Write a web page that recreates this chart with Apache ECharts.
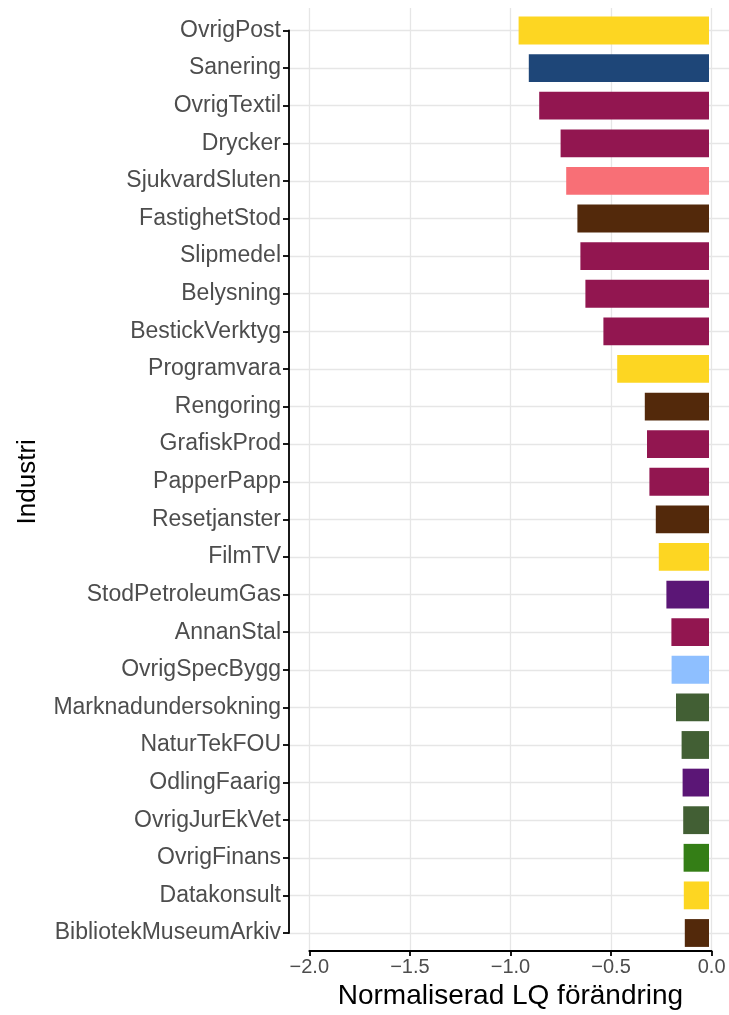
<!DOCTYPE html>
<html>
<head>
<meta charset="utf-8">
<script src="https://cdn.jsdelivr.net/npm/echarts@6/dist/echarts.min.js"></script>
<style>
html,body{margin:0;padding:0;background:#fff;}
#chart{width:729px;height:1015px;}
</style>
</head>
<body>
<div id="chart"></div>
<script>
// ---- data ----
const categories = [
  'OvrigPost','Sanering','OvrigTextil','Drycker','SjukvardSluten','FastighetStod',
  'Slipmedel','Belysning','BestickVerktyg','Programvara','Rengoring','GrafiskProd',
  'PapperPapp','Resetjanster','FilmTV','StodPetroleumGas','AnnanStal','OvrigSpecBygg',
  'Marknadundersokning','NaturTekFOU','OdlingFaarig','OvrigJurEkVet','OvrigFinans',
  'Datakonsult','BibliotekMuseumArkiv'
];
const lqChange = [
  -0.952, -0.901, -0.849, -0.742, -0.714, -0.658,
  -0.643, -0.618, -0.528, -0.459, -0.321, -0.310,
  -0.298, -0.266, -0.251, -0.213, -0.188, -0.187,
  -0.165, -0.137, -0.132, -0.129, -0.127,
  -0.126, -0.121
];
const xTicks = [-2.0, -1.5, -1.0, -0.5, 0.0];

// ---- styles (bar colour per category) ----
const palette = {
  yellow: '#FDD622', navy: '#1E4678', magenta: '#921650', salmon: '#F86F76',
  brown: '#53290B', purple: '#5B1676', lightblue: '#8EBFFF', darkgreen: '#425F34', green: '#347E16'
};
const barColorKeys = [
  'yellow','navy','magenta','magenta','salmon','brown',
  'magenta','magenta','magenta','yellow','brown','magenta',
  'magenta','brown','yellow','purple','magenta','lightblue',
  'darkgreen','darkgreen','purple','darkgreen','green',
  'yellow','brown'
];

const FONT = 'Liberation Sans, Arial, sans-serif';
const chart = echarts.init(document.getElementById('chart'), null, {renderer: 'canvas'});

const option = {
  backgroundColor: '#ffffff',
  animation: false,
  textStyle: {fontFamily: FONT},
  grid: [
    // grid 0: bars + capped y axis (first to last category)
    {left: 289, width: 442.6, top: 30.5, bottom: 82, containLabel: false},
    // grid 1: capped x axis from -2.0 to 0.0, full panel height for vertical grid lines
    {left: 309.3, width: 402.3, top: 8, bottom: 60, containLabel: false}
  ],
  xAxis: [
    {
      gridIndex: 0, type: 'value', min: -2.1, max: 0.1, show: false
    },
    {
      gridIndex: 1, type: 'value', min: xTicks[0], max: xTicks[xTicks.length - 1], interval: 0.5,
      axisLine: {show: true, onZero: false, lineStyle: {color: '#000', width: 1.8}},
      axisTick: {show: true, length: 5, lineStyle: {color: '#000', width: 1.8}},
      axisLabel: {
        color: '#4D4D4D', fontSize: 20, fontFamily: FONT, margin: 6,
        formatter: v => (v < 0 ? '\u2212' : '') + Math.abs(v).toFixed(1)
      },
      splitLine: {show: true, lineStyle: {color: '#E6E6E6', width: 1.3}},
      name: 'Normaliserad LQ förändring',
      nameLocation: 'middle',
      nameGap: 29,
      nameTextStyle: {color: '#000', fontSize: 28, fontFamily: FONT}
    }
  ],
  yAxis: [
    {
      gridIndex: 0, type: 'category', data: categories, inverse: true, boundaryGap: false,
      axisLine: {show: true, onZero: false, lineStyle: {color: '#000', width: 1.8}},
      axisTick: {show: true, length: 6, alignWithLabel: true, lineStyle: {color: '#000', width: 1.8}},
      axisLabel: {color: '#4D4D4D', fontSize: 23, fontFamily: FONT, margin: 8, interval: 0},
      splitLine: {show: true, interval: 0, lineStyle: {color: '#E6E6E6', width: 1.3}},
      name: 'Industri',
      nameLocation: 'middle',
      nameGap: 248,
      nameRotate: 90,
      nameTextStyle: {color: '#000', fontSize: 26, fontFamily: FONT}
    },
    {
      gridIndex: 1, type: 'value', show: false
    }
  ],
  series: [
    {
      type: 'bar',
      xAxisIndex: 0,
      yAxisIndex: 0,
      clip: false,
      barWidth: '74%',
      z: 3,
      data: lqChange.map((v, i) => ({value: v, itemStyle: {color: palette[barColorKeys[i]]}}))
    }
  ]
};
chart.setOption(option);
</script>
</body>
</html>
